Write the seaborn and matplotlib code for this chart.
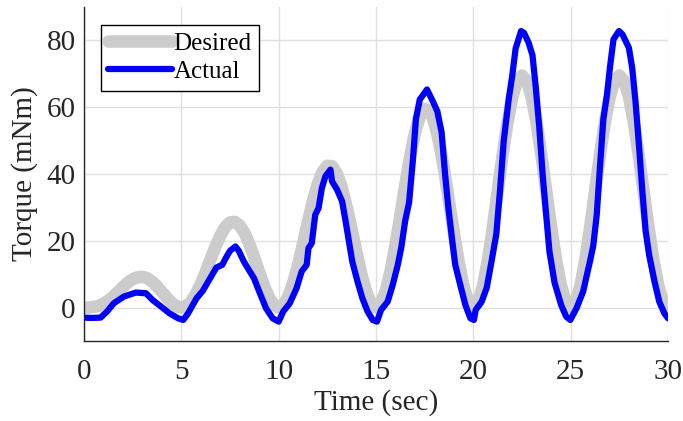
import matplotlib
matplotlib.use("Agg")
import matplotlib.pyplot as plt
import numpy as np
import pandas as pd
import seaborn as sns

# ---------------- data ----------------
t_desired = np.linspace(0, 30, 121)
desired = [
    0.0, 0.0, 0.2, 0.5, 1.2, 2.1, 3.3, 4.7, 6.2, 7.5, 8.5, 9.1, 9.2, 8.8, 7.8, 6.4, 4.7, 3.0, 1.5, 0.4,
    0.0, 0.4, 1.8, 4.0, 7.1, 10.6, 14.5, 18.2, 21.5, 24.1, 25.5, 25.7, 24.6, 22.3, 18.9, 14.9, 10.6, 6.5, 3.1, 0.8,
    0.0, 0.9, 3.4, 7.5, 12.9, 19.1, 25.6, 31.7, 36.9, 40.6, 42.5, 42.3, 40.0, 35.8, 30.0, 23.4, 16.5, 10.0, 4.7, 1.2,
    0.0, 1.3, 5.0, 11.0, 18.8, 27.6, 36.7, 45.2, 52.3, 57.2, 59.5, 58.9, 55.4, 49.3, 41.2, 31.9, 22.3, 13.5, 6.3, 1.7,
    0.0, 1.7, 6.6, 14.3, 24.0, 34.8, 45.5, 55.2, 62.9, 67.8, 69.5, 67.8, 62.9, 55.2, 45.5, 34.8, 24.0, 14.3, 6.6, 1.7,
    0.0, 1.7, 6.6, 14.3, 24.0, 34.8, 45.5, 55.2, 62.9, 67.8, 69.5, 67.8, 62.9, 55.2, 45.5, 34.8, 24.0, 14.3, 6.6, 1.7,
    0.0,
]

t_actual = [
    0.0, 0.4, 0.85, 1.18, 1.53, 2.05, 2.66, 3.18, 3.52, 3.96, 4.39, 4.83, 5.1,
    5.35, 5.78, 6.1, 6.48, 6.8, 7.1, 7.3, 7.5, 7.78, 7.95, 8.21, 8.5, 8.73, 9.0, 9.35, 9.69, 10.0,
    10.23, 10.57, 10.92, 11.18, 11.44, 11.53, 11.7, 11.88, 12.05, 12.22, 12.4, 12.66, 12.74, 13.0,
    13.26, 13.44, 13.61, 13.78, 14.05, 14.3, 14.57, 14.83, 15.05,
    15.26, 15.6, 15.86, 16.12, 16.3, 16.5, 16.7, 16.9, 17.05, 17.25, 17.62, 17.9, 18.15, 18.37,
    18.55, 18.72, 18.9, 19.07, 19.33, 19.59, 19.85, 20.03,
    20.12, 20.43, 20.69, 20.95, 21.18, 21.37, 21.56, 21.82, 22.0, 22.17, 22.45, 22.6, 22.84, 23.04,
    23.21, 23.39, 23.56, 23.73, 23.91, 24.17, 24.51, 24.77, 24.98,
    25.3, 25.64, 25.99, 26.16, 26.34, 26.51, 26.68, 26.86, 27.03, 27.2, 27.48, 27.66, 27.99, 28.16,
    28.33, 28.51, 28.68, 28.85, 29.03, 29.29, 29.55, 29.81, 30.0,
]
actual = [
    -3.0, -3.1, -3.0, -1.2, 1.3, 3.3, 4.5, 4.3, 2.3, 0.3, -1.7, -3.2, -3.7,
    -1.7, 2.8, 5.0, 8.8, 12.0, 12.8, 15.0, 17.0, 18.3, 17.0, 13.8, 11.0, 8.8, 4.8, -0.2, -3.2, -4.2,
    -1.2, 1.3, 5.8, 10.8, 12.8, 17.8, 19.3, 27.8, 29.8, 35.8, 39.3, 41.3, 37.8, 35.3,
    31.8, 25.8, 19.8, 13.8, 7.8, 2.8, -1.2, -3.7, -4.2,
    -0.7, 1.8, 6.8, 12.8, 18.0, 26.0, 31.5, 44.5, 56.5, 62.3, 65.3, 62.0, 58.8, 52.5,
    39.8, 29.8, 20.8, 12.8, 6.8, 0.8, -3.2, -3.7,
    -0.7, 1.8, 6.0, 14.3, 22.0, 35.0, 49.8, 62.5, 69.5, 77.5, 82.8, 82.3, 79.3, 75.5,
    65.8, 53.8, 39.8, 28.5, 16.8, 7.5, 0.8, -2.7, -3.7,
    -0.2, 4.8, 13.8, 18.5, 27.8, 42.5, 56.5, 63.5, 72.5, 80.3, 82.8, 81.8, 77.8, 71.8,
    61.8, 48.5, 35.0, 23.0, 15.8, 8.3, 1.8, -1.7, -3.2,
]

x_ticks = [0, 5, 10, 15, 20, 25, 30]
y_ticks = [0, 20, 40, 60, 80]

df_des = pd.DataFrame({"t": t_desired, "v": desired})
df_act = pd.DataFrame({"t": t_actual, "v": actual})

# ---------------- style ----------------
sns.set_theme(style="white")
plt.rcParams["font.family"] = ["Liberation Serif", "DejaVu Serif"]
axc = "#262626"

fig = plt.figure(figsize=(6.83, 4.21), dpi=100)
ax = fig.add_axes([84 / 683, 80 / 421, 584 / 683, 334 / 421])

sns.lineplot(data=df_des, x="t", y="v", ax=ax, color="#cccccc", linewidth=9.0,
             label="Desired", sort=False, solid_joinstyle="round", solid_capstyle="round")
sns.lineplot(data=df_act, x="t", y="v", ax=ax, color="#0000ff", linewidth=4.5,
             label="Actual", sort=False, solid_joinstyle="round", solid_capstyle="round")

ax.set_xlim(0, 30)
ax.set_ylim(-10, 90)
ax.set_xticks(x_ticks)
ax.set_yticks(y_ticks)
ax.grid(True, color="#e0e0e0", linewidth=1.0)
ax.set_axisbelow(True)

for s in ["top", "right"]:
    ax.spines[s].set_visible(False)
for s in ["left", "bottom"]:
    ax.spines[s].set_color(axc)
    ax.spines[s].set_linewidth(1.0)

ax.tick_params(axis="both", direction="in", length=5, width=1, color=axc,
               labelcolor=axc, labelsize=21)
ax.tick_params(axis="x", pad=13)
ax.tick_params(axis="y", pad=6)

ax.set_xlabel("Time (sec)", fontsize=21, color=axc, labelpad=3)
ax.set_ylabel("Torque (mNm)", fontsize=21, color=axc, labelpad=6)

leg = ax.legend(loc="upper left", bbox_to_anchor=(0.029, 0.946), borderaxespad=0,
                frameon=True, fancybox=False, edgecolor="black", framealpha=1,
                fontsize=18, handlelength=2.55, handletextpad=0.05, labelspacing=0.22,
                borderpad=0.3)
leg.get_frame().set_linewidth(1.0)
for txt in leg.get_texts():
    txt.set_color("black")

fig.savefig("out.png", dpi=100)
